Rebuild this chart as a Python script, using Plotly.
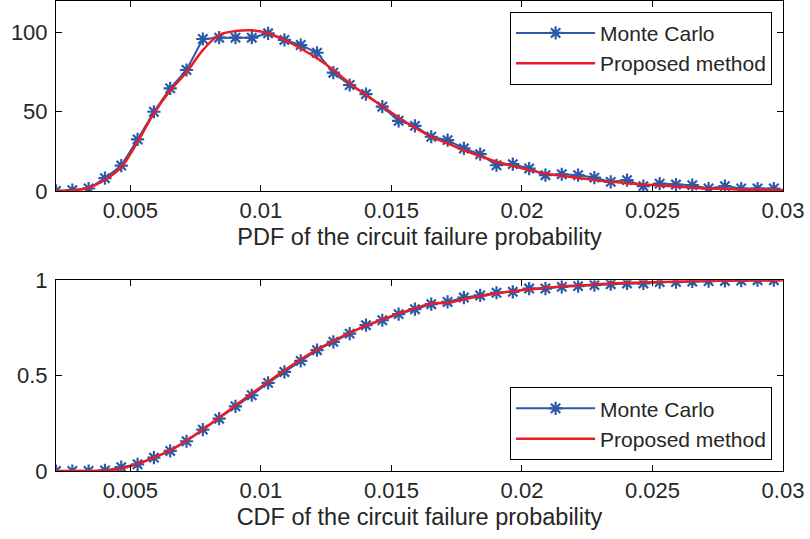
import plotly.graph_objects as go
from plotly.subplots import make_subplots

x_mc = [0.00215, 0.002775, 0.0034, 0.004025, 0.00465, 0.005275, 0.0059, 0.006525, 0.00715, 0.007775,
        0.0084, 0.009025, 0.00965, 0.010275, 0.0109, 0.011525, 0.01215, 0.012775, 0.0134, 0.014025,
        0.01465, 0.015275, 0.0159, 0.016525, 0.01715, 0.017775, 0.0184, 0.019025, 0.01965, 0.020275,
        0.0209, 0.021525, 0.02215, 0.022775, 0.0234, 0.024025, 0.02465, 0.025275, 0.0259, 0.026525,
        0.02715, 0.027775, 0.0284, 0.029025, 0.02965]
pdf_mc = [0, 0.5, 1.5, 8, 16, 32.5, 50, 64.8, 76.4, 96, 96.8, 96.8, 96.8, 99.6, 95.4, 92.2, 87.3, 74.7,
          66.9, 61.2, 53.2, 44.3, 41.1, 34.2, 32.1, 26.8, 23.2, 16.2, 16.9, 14.1, 9.9, 10.5, 9.9, 8.4,
          5.7, 6.8, 3, 4.6, 4, 3.6, 1.5, 3, 1.5, 1.5, 1.5]
x_pm = x_mc + [0.03]
pdf_pm = [0, 0.3, 2, 7, 15, 31, 49, 63.5, 75, 89, 98.5, 101, 101.5, 99.6, 95.4, 90, 83.8, 76.4, 68,
          60.5, 53.6, 46.4, 40, 34.2, 30, 25.7, 22, 18.4, 15.8, 13.1, 11, 9.5, 8.2, 6.8, 5.7, 4.9, 4,
          3.4, 2.7, 2.1, 1.5, 1.3, 0.8, 0.8, 0.6, 0.5]
cdf_mc = [0, 0, 0, 0.003, 0.02, 0.035, 0.07, 0.105, 0.156, 0.217, 0.274, 0.339, 0.397, 0.462, 0.519,
          0.577, 0.633, 0.677, 0.72, 0.764, 0.79, 0.822, 0.848, 0.874, 0.886, 0.909, 0.92, 0.934,
          0.939, 0.956, 0.956, 0.965, 0.969, 0.974, 0.979, 0.983, 0.983, 0.99, 0.99, 0.993, 0.995,
          0.996, 0.998, 1.0, 1.0]
cdf_pm = [0, 0, 0, 0.003, 0.012, 0.038, 0.07, 0.108, 0.16, 0.218, 0.28, 0.343, 0.406, 0.467, 0.528,
          0.584, 0.636, 0.682, 0.724, 0.762, 0.795, 0.825, 0.851, 0.878, 0.881, 0.9, 0.916, 0.93,
          0.942, 0.951, 0.96, 0.967, 0.972, 0.977, 0.983, 0.986, 0.988, 0.991, 0.993, 0.995, 0.997,
          0.997, 0.998, 0.998, 0.998, 1.0]
xtick_vals = [0.005, 0.01, 0.015, 0.02, 0.025, 0.03]
xtick_text = ["0.005", "0.01", "0.015", "0.02", "0.025", "0.03"]

BLUE = "#2b5ba8"
RED = "#ec1c24"
TXT = "#262626"
FONT = "Liberation Sans, Arial, sans-serif"
FS = 22

fig = make_subplots(rows=2, cols=1, vertical_spacing=0.19)

mk = dict(symbol="asterisk-open", size=11, color=BLUE, line=dict(color=BLUE, width=2.2))
fig.add_trace(go.Scatter(x=x_mc, y=pdf_mc, mode="lines+markers", name="Monte Carlo",
                         line=dict(color=BLUE, width=2), marker=mk, legend="legend"), row=1, col=1)
fig.add_trace(go.Scatter(x=x_pm, y=pdf_pm, mode="lines", name="Proposed method",
                         line=dict(color=RED, width=2.5, shape="spline", smoothing=1.0),
                         legend="legend"), row=1, col=1)
fig.add_trace(go.Scatter(x=x_mc, y=cdf_mc, mode="lines+markers", name="Monte Carlo",
                         line=dict(color=BLUE, width=2), marker=mk, legend="legend2"), row=2, col=1)
fig.add_trace(go.Scatter(x=x_pm, y=cdf_pm, mode="lines", name="Proposed method",
                         line=dict(color=RED, width=2.5, shape="spline", smoothing=1.0),
                         legend="legend2"), row=2, col=1)

axis_common = dict(showline=True, linecolor="black", linewidth=1, mirror="ticks", ticks="inside",
                   ticklen=6, tickcolor="black", showgrid=False, zeroline=False, automargin=False,
                   tickfont=dict(size=FS, color=TXT, family=FONT))

tfont = dict(size=23.5, color=TXT, family=FONT)
fig.update_xaxes(range=[0.00215, 0.03], tickvals=xtick_vals, ticktext=xtick_text,
                 ticklabelstandoff=0, **axis_common)
fig.update_xaxes(title=dict(text="PDF of the circuit failure probability", font=tfont, standoff=6), row=1, col=1)
fig.update_xaxes(title=dict(text="CDF of the circuit failure probability", font=tfont, standoff=6), row=2, col=1)
fig.update_yaxes(range=[0, 120], tickvals=[0, 50, 100], ticktext=["0", "50", "100"], ticklabelstandoff=3, row=1, col=1, **axis_common)
fig.update_yaxes(range=[0, 1], tickvals=[0, 0.5, 1], ticktext=["0", "0.5", "1"], ticklabelstandoff=3, row=2, col=1, **axis_common)

leg = dict(bgcolor="white", bordercolor="black", borderwidth=1, itemwidth=79,
           font=dict(size=21, color=TXT, family=FONT), tracegroupgap=0)
fig.update_layout(
    width=810, height=539,
    margin=dict(l=56, r=27, t=1, b=68),
    paper_bgcolor="white", plot_bgcolor="white",
    font=dict(family=FONT, size=FS, color=TXT),
    legend=dict(x=0.985, xanchor="right", y=0.977, yanchor="top", **leg),
    legend2=dict(x=0.985, xanchor="right", y=0.023, yanchor="bottom", **leg),
)
fig.layout.yaxis.domain = [0.596, 1.0]
fig.layout.yaxis2.domain = [0.0, 0.406]

fig.write_html("out.html")
